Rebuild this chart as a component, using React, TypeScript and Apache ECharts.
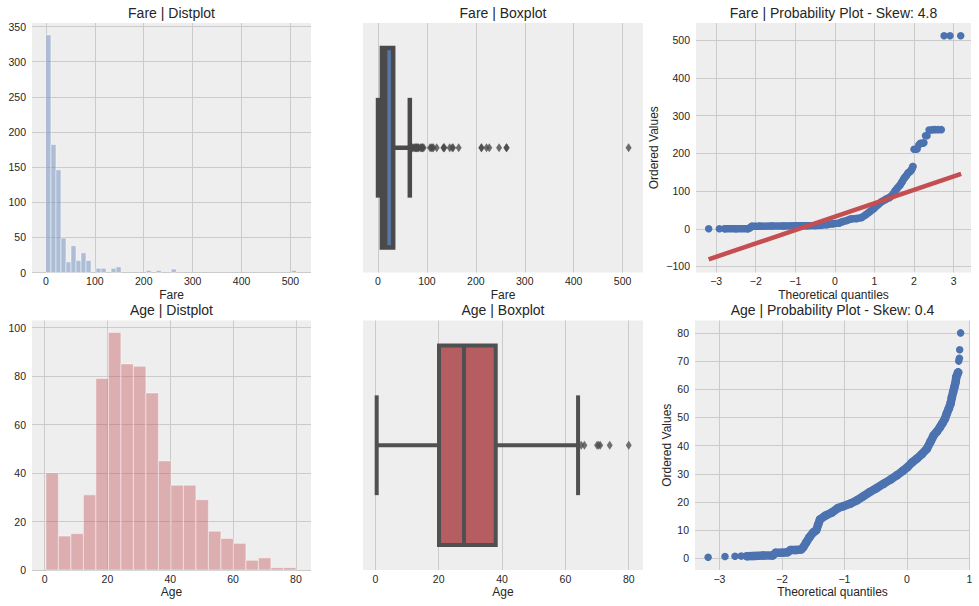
import React, { useEffect, useRef } from "react";
import * as echarts from "echarts";

// ---------------- DATA ----------------
const FARE_BIN_RANGE = [0, 512.33];
const FARE_COUNTS = [
  338, 182, 146, 49, 15, 38, 17, 28, 17, 0,
  6, 6, 0, 6, 8, 0, 0, 0, 0, 0,
  3, 0, 3, 0, 0, 5, 0, 0, 0, 0,
  0, 0, 0, 0, 0, 0, 0, 0, 0, 0,
  0, 0, 0, 0, 0, 0, 0, 0, 0, 3,
];
const AGE_BIN_RANGE = [0.42, 80];
const AGE_COUNTS = [40, 14, 15, 31, 79, 98, 85, 84, 73, 45, 35, 35, 29, 16, 13, 11, 4, 5, 1, 1];

// [whisker low, Q1, median, Q3, whisker high]
const FARE_BOX_STATS = [0, 7.91, 14.45, 31, 65];
const FARE_OUTLIERS = [
  66.6, 69.5, 71, 73.5, 75.3, 76.7, 77.9, 79.2, 80, 81.9, 83.2, 86.5, 89.1, 90, 91.1, 93.5,
  106.4, 108.9, 110.9, 113.3, 120, 133.7, 134.5, 135.6, 146.5, 151.6, 153.5, 164.9,
  211.3, 211.5, 221.8, 227.5, 247.5, 262.4, 263, 512.3,
];
const AGE_BOX_STATS = [0.42, 20.1, 28, 38, 64];
const AGE_OUTLIERS = [65, 66, 70, 70.5, 71, 74, 80];

// probability plots: [theoretical quantile, ordered value]
const FARE_QQ_BAND = [
  [-2.78, 0], [-2.5, 0], [-2.2, 0], [-2.14, 3], [-2.1, 6.5], [-1.9, 7], [-1.6, 7.2], [-1.3, 7.5],
  [-1.0, 7.8], [-0.7, 8], [-0.5, 8.5], [-0.35, 9.5], [-0.2, 11], [-0.05, 13.5], [0.1, 15], [0.2, 19],
  [0.3, 22], [0.4, 26], [0.55, 27], [0.68, 30], [0.78, 37], [0.88, 45], [0.98, 53], [1.08, 63],
  [1.18, 72], [1.28, 78], [1.38, 83], [1.46, 90], [1.52, 100], [1.58, 108], [1.64, 115], [1.7, 125],
  [1.75, 134], [1.8, 140], [1.85, 148], [1.9, 152], [1.94, 157], [1.97, 165],
];
const FARE_QQ_POINTS = [
  [-3.19, 0], [-2.92, 0],
  [2.0, 211], [2.04, 211], [2.08, 212], [2.12, 222], [2.16, 227], [2.19, 227], [2.22, 227], [2.25, 228],
  [2.29, 247], [2.33, 247], [2.38, 262], [2.43, 262], [2.48, 263], [2.54, 263], [2.61, 263], [2.69, 263],
  [2.76, 512], [2.91, 512], [3.18, 512],
];
const FARE_QQ_FIT = [[-3.19, -81], [3.19, 145.5]];

const AGE_QQ_BAND = [
  [-2.56, 0.8], [-2.45, 0.9], [-2.3, 1], [-2.15, 1], [-2.1, 2], [-2.0, 2], [-1.91, 2.2], [-1.86, 3],
  [-1.78, 3], [-1.69, 3.2], [-1.66, 3.9], [-1.61, 5.7], [-1.56, 7.5], [-1.5, 9.2], [-1.45, 10],
  [-1.42, 12], [-1.39, 13.8], [-1.31, 15.1], [-1.2, 16.3], [-1.1, 17.9], [-1.02, 18.5], [-0.9, 19.5],
  [-0.8, 20.6], [-0.7, 22], [-0.59, 23.6], [-0.48, 25], [-0.37, 26.5], [-0.26, 28], [-0.16, 29.5],
  [-0.07, 31], [0.01, 32.4], [0.08, 34], [0.16, 35.4], [0.24, 37], [0.32, 38.9], [0.38, 41.5],
  [0.43, 43.7], [0.48, 45], [0.53, 46.6], [0.57, 48], [0.61, 49.6], [0.64, 51.5], [0.67, 53.1],
  [0.7, 55], [0.72, 57.2], [0.74, 59], [0.76, 60.8], [0.78, 62.5], [0.79, 64.3], [0.82, 66],
];
const AGE_QQ_POINTS = [
  [-3.18, 0.42], [-2.91, 0.67], [-2.75, 0.75], [-2.65, 0.83],
  [0.83, 70], [0.84, 71], [0.845, 74], [0.86, 80],
];

const TITLES = [
  "Fare | Distplot",
  "Fare | Boxplot",
  "Fare | Probability Plot - Skew: 4.8",
  "Age | Distplot",
  "Age | Boxplot",
  "Age | Probability Plot - Skew: 0.4",
];
const X_NAMES = ["Fare", "Fare", "Theoretical quantiles", "Age", "Age", "Theoretical quantiles"];
const Y_NAME = "Ordered Values";

// ---------------- LAYOUT / STYLE ----------------
const GRID_POS = [
  { left: 32, top: 23, width: 279, height: 249.5 },
  { left: 363, top: 23, width: 280, height: 249.5 },
  { left: 696, top: 23, width: 275, height: 249.5 },
  { left: 32, top: 320.5, width: 279, height: 249.5 },
  { left: 363, top: 320.5, width: 280, height: 249.5 },
  { left: 695, top: 320.5, width: 275, height: 249.5 },
];
const X_RANGES = [
  [-28.5, 542], [-30.7, 541.7], [-3.51, 3.44],
  [-4.0, 84.8], [-3.9, 84.5], [-3.39, 1.01],
];
const FONT = "Liberation Sans";
const TEXT = "#262626";
const GRIDLINE = "#cbcbcb";
const BG = "#eeeeee";
const BLUE = "#4c72b0";
const RED = "#c44e52";

const minus = (v: number) => String(v).replace("-", "\u2212");

function binsOf(range: number[], counts: number[]) {
  const w = (range[1] - range[0]) / counts.length;
  return counts.map((c, i) => [range[0] + i * w, range[0] + (i + 1) * w, c]);
}

const histRender = (fill: string) => (params: any, api: any) => {
  const c = api.value(2);
  if (!c) return { type: "group", children: [] };
  const a = api.coord([api.value(0), c]);
  const b = api.coord([api.value(1), 0]);
  return {
    type: "rect",
    shape: { x: a[0], y: a[1], width: b[0] - a[0], height: b[1] - a[1] },
    style: { fill, stroke: "rgba(255,255,255,0.45)", lineWidth: 1 },
  };
};

const boxRender = (fill: string, stroke: string, lw: number) => (params: any, api: any) => {
  const lo = api.value(0), q1 = api.value(1), md = api.value(2), q3 = api.value(3), hi = api.value(4);
  const P = (x: number, y: number) => api.coord([x, y]);
  const tl = P(q1, 0.4);
  const br = P(q3, -0.4);
  const line = (a: number[], b: number[]) => ({
    type: "line",
    shape: { x1: a[0], y1: a[1], x2: b[0], y2: b[1] },
    style: { stroke, lineWidth: lw, lineCap: "butt" },
  });
  return {
    type: "group",
    children: [
      {
        type: "rect",
        shape: { x: tl[0], y: tl[1], width: br[0] - tl[0], height: br[1] - tl[1] },
        style: { fill, stroke, lineWidth: lw, lineJoin: "miter" },
      },
      line(P(lo, 0), P(q1, 0)),
      line(P(q3, 0), P(hi, 0)),
      line(P(lo, -0.2), P(lo, 0.2)),
      line(P(hi, -0.2), P(hi, 0.2)),
      line(P(md, -0.4), P(md, 0.4)),
    ],
  };
};

function buildOption() {
  const grid = GRID_POS.map((g) => ({
    ...g,
    show: true,
    backgroundColor: BG,
    borderWidth: 0,
    containLabel: false,
    outerBoundsMode: "none",
  }));

  const labelStyle = { color: TEXT, fontSize: 10.5, fontFamily: FONT };
  const splitLine = (hideMin: boolean, hideMax: boolean) => ({
    show: true,
    showMinLine: !hideMin,
    showMaxLine: !hideMax,
    lineStyle: { color: GRIDLINE, width: 1 },
  });

  const xAxis = X_RANGES.map((r, i) => ({
    type: "value",
    gridIndex: i,
    min: r[0],
    max: r[1],
    name: X_NAMES[i],
    nameLocation: "middle",
    nameGap: 16,
    nameTextStyle: { color: TEXT, fontSize: 12, fontFamily: FONT },
    axisLine: { show: false },
    axisTick: { show: false },
    axisLabel: { ...labelStyle, margin: 3, showMinLabel: false, showMaxLabel: false, formatter: minus },
    splitLine: splitLine(true, true),
  }));

  const yVal = (i: number, min: number, max: number, splitNumber: number, hideMin: boolean, name?: string, nameGap?: number) => ({
    type: "value",
    gridIndex: i,
    min,
    max,
    splitNumber,
    name: name || "",
    nameLocation: "middle",
    nameGap: nameGap || 0,
    nameTextStyle: { color: TEXT, fontSize: 12, fontFamily: FONT },
    axisLine: { show: false },
    axisTick: { show: false },
    axisLabel: { ...labelStyle, margin: 6, showMinLabel: !hideMin, showMaxLabel: false, formatter: minus },
    splitLine: splitLine(hideMin, true),
  });
  const yHidden = (i: number) => ({ type: "value", gridIndex: i, min: -0.5, max: 0.5, show: false });

  const yAxis = [
    yVal(0, 0, 355, 7, false),
    yHidden(1),
    yVal(2, -116, 546, 5, true, Y_NAME, 36),
    yVal(3, 0, 102.9, 5, false),
    yHidden(4),
    yVal(5, -4.1, 84.4, 9, true, Y_NAME, 20),
  ];

  const series: any[] = [
    {
      type: "custom",
      xAxisIndex: 0,
      yAxisIndex: 0,
      data: binsOf(FARE_BIN_RANGE, FARE_COUNTS),
      encode: { x: [0, 1], y: 2 },
      renderItem: histRender("rgba(76,114,176,0.4)"),
      silent: true,
    },
    {
      type: "custom",
      xAxisIndex: 1,
      yAxisIndex: 1,
      data: [[...FARE_BOX_STATS, 0]],
      encode: { x: [0, 1, 2, 3, 4], y: 5 },
      renderItem: boxRender("#5875a4", "#4a4a4a", 4.5),
      silent: true,
    },
    {
      type: "scatter",
      xAxisIndex: 1,
      yAxisIndex: 1,
      data: FARE_OUTLIERS.map((v) => [v, 0]),
      symbol: "diamond",
      symbolSize: [6, 9],
      itemStyle: { color: "#4a4a4a" },
      silent: true,
      z: 3,
    },
    {
      type: "line",
      xAxisIndex: 2,
      yAxisIndex: 2,
      data: FARE_QQ_BAND,
      symbol: "circle",
      symbolSize: 7.5,
      showSymbol: true,
      lineStyle: { color: BLUE, width: 7.5, cap: "round", join: "round" },
      itemStyle: { color: BLUE },
      silent: true,
      z: 2,
    },
    {
      type: "scatter",
      xAxisIndex: 2,
      yAxisIndex: 2,
      data: FARE_QQ_POINTS,
      symbol: "circle",
      symbolSize: 7.5,
      itemStyle: { color: BLUE, opacity: 1 },
      silent: true,
      z: 2,
    },
    {
      type: "line",
      xAxisIndex: 2,
      yAxisIndex: 2,
      data: FARE_QQ_FIT,
      symbol: "none",
      lineStyle: { color: RED, width: 4.5, cap: "butt" },
      silent: true,
      z: 4,
    },
    {
      type: "custom",
      xAxisIndex: 3,
      yAxisIndex: 3,
      data: binsOf(AGE_BIN_RANGE, AGE_COUNTS),
      encode: { x: [0, 1], y: 2 },
      renderItem: histRender("rgba(196,78,82,0.4)"),
      silent: true,
    },
    {
      type: "custom",
      xAxisIndex: 4,
      yAxisIndex: 4,
      data: [[...AGE_BOX_STATS, 0]],
      encode: { x: [0, 1, 2, 3, 4], y: 5 },
      renderItem: boxRender("#b55d60", "#505050", 4),
      silent: true,
    },
    {
      type: "scatter",
      xAxisIndex: 4,
      yAxisIndex: 4,
      data: AGE_OUTLIERS.map((v) => [v, 0]),
      symbol: "diamond",
      symbolSize: [6, 9],
      itemStyle: { color: "#505050" },
      silent: true,
      z: 3,
    },
    {
      type: "line",
      xAxisIndex: 5,
      yAxisIndex: 5,
      data: AGE_QQ_BAND,
      symbol: "circle",
      symbolSize: 8.5,
      showSymbol: true,
      lineStyle: { color: BLUE, width: 8.5, cap: "round", join: "round" },
      itemStyle: { color: BLUE },
      silent: true,
      z: 2,
    },
    {
      type: "scatter",
      xAxisIndex: 5,
      yAxisIndex: 5,
      data: AGE_QQ_POINTS,
      symbol: "circle",
      symbolSize: 7.5,
      itemStyle: { color: BLUE, opacity: 1 },
      silent: true,
      z: 2,
    },
  ];

  const graphic = TITLES.map((t, i) => {
    const g = GRID_POS[i];
    return {
      type: "text",
      x: g.left + g.width / 2,
      y: i < 3 ? 12.5 : 310,
      silent: true,
      style: {
        text: t,
        fill: TEXT,
        font: `14px "${FONT}"`,
        align: "center",
        verticalAlign: "middle",
        textAlign: "center",
        textVerticalAlign: "middle",
      },
    };
  });

  return {
    animation: false,
    backgroundColor: "#ffffff",
    textStyle: { fontFamily: FONT },
    grid,
    xAxis,
    yAxis,
    series,
    graphic,
  };
}

export default function App() {
  const ref = useRef<HTMLDivElement>(null);
  useEffect(() => {
    if (!ref.current) return;
    const chart = echarts.init(ref.current, undefined, { renderer: "svg" });
    chart.setOption(buildOption() as any);
    return () => chart.dispose();
  }, []);
  return (
    <div
      ref={ref}
      style={{ position: "fixed", left: 0, top: 0, width: 979, height: 606, background: "#fff" }}
    />
  );
}
